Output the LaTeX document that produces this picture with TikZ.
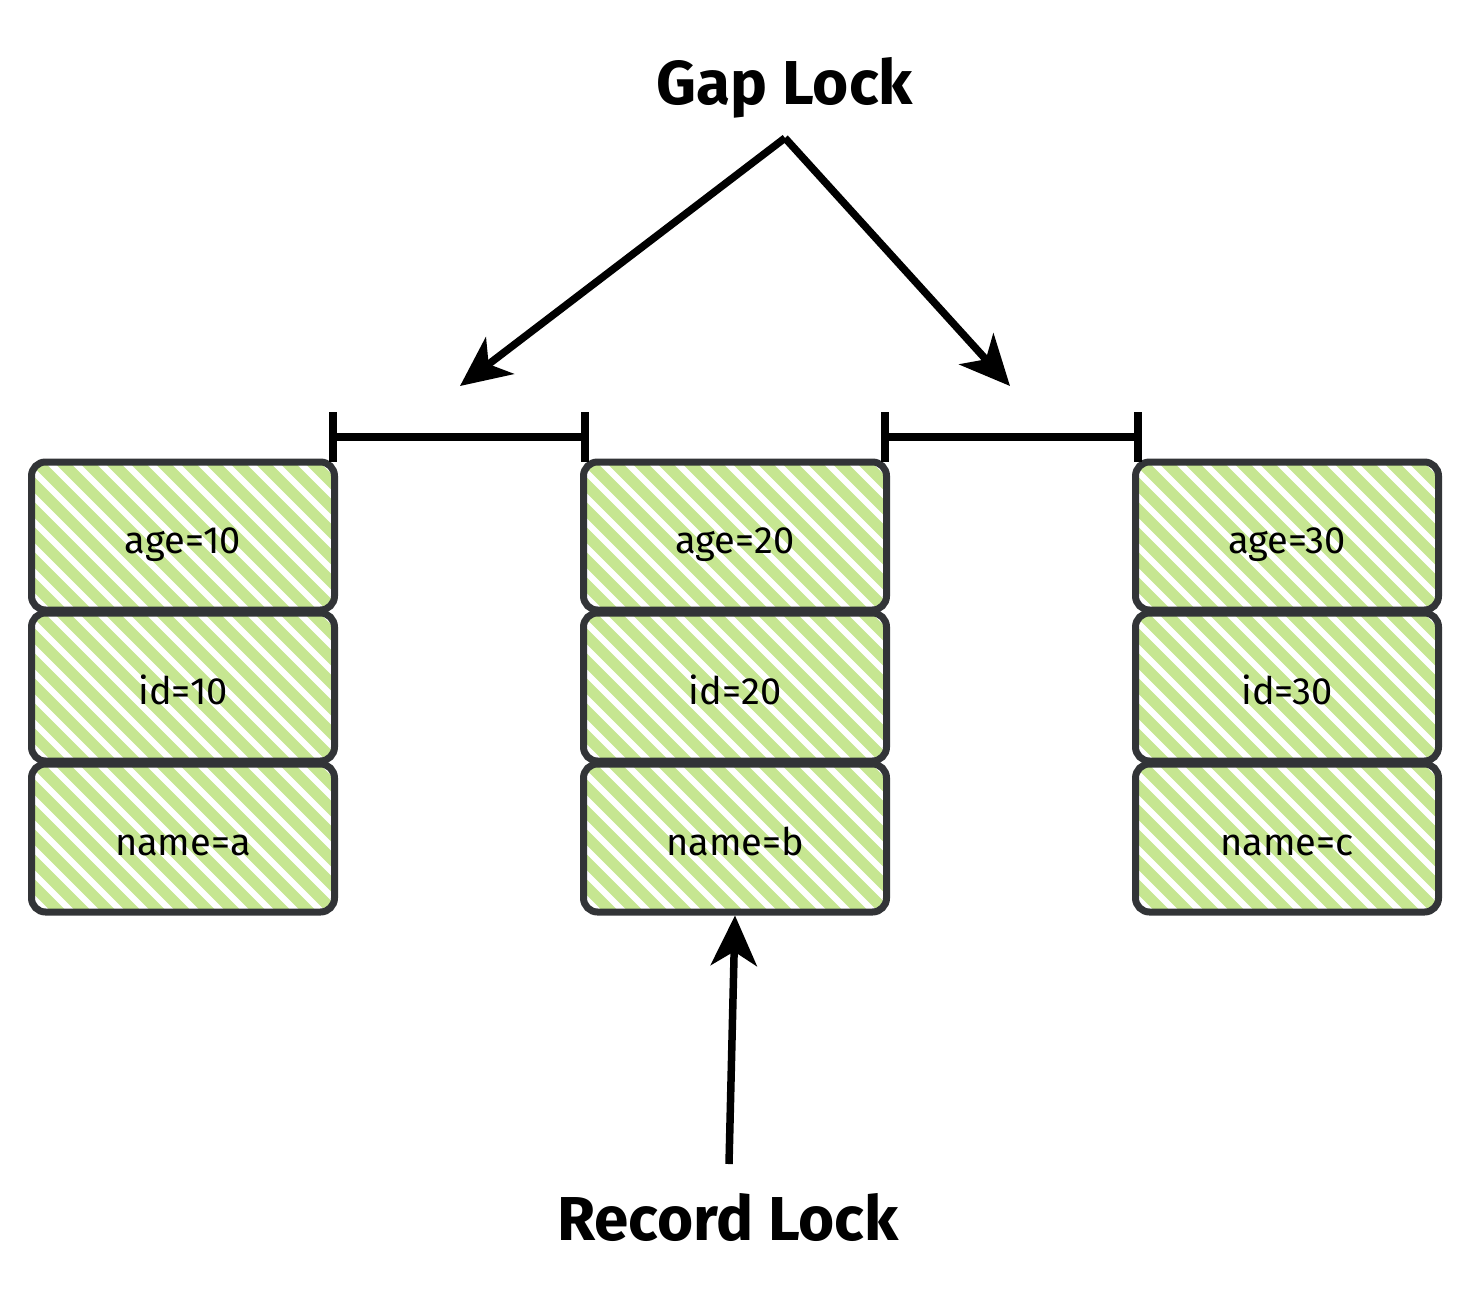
\documentclass[tikz,border=0pt]{standalone}
\usepackage{fontspec}
\setmainfont{Fira Sans}
\usetikzlibrary{arrows.meta,calc}
\definecolor{hatchgreen}{RGB}{198,230,145}
\definecolor{edge}{RGB}{50,52,55}
\tikzset{
  cell/.style={draw=edge, line width=7pt, rounded corners=14pt,
    minimum width=303pt, minimum height=148pt, inner sep=0pt,
    text height=40pt, text depth=5pt,
    font=\fontsize{38}{42}\selectfont,
    path picture={
      \foreach \k in {0,...,20}{
        \draw[hatchgreen, line width=11pt, line cap=round]
          ([xshift=-180pt+\k*25pt, yshift=10pt]path picture bounding box.north west)
          -- ++(200pt,-200pt);
      }
    }},
  title/.style={font=\fontsize{62}{70}\selectfont\bfseries, inner sep=0pt},
  bar/.style={line width=8.5pt, black},
  arr/.style={line width=7.5pt, black, -{Stealth[length=50pt,width=46pt,inset=14pt]}},
}
\begin{document}
\begin{tikzpicture}[x=1pt,y=-1pt]
\useasboundingbox (0,0) rectangle (1464,1294);
% cells
\foreach \c/\x/\v/\n in {1/183/10/a, 2/735/20/b, 3/1287/30/c}{
  \node[cell] (age\c) at (\x,536) {age=\v};
  \node[cell] (id\c) at (\x,687) {id=\v};
  \node[cell] (name\c) at (\x,838) {name=\n};
}
% gap bars
\coordinate (g1a) at (333,437);
\coordinate (g1b) at (585,437);
\coordinate (g2a) at (885,437);
\coordinate (g2b) at (1138,437);
\draw[bar] (g1a) -- (g1b);
\draw[bar] (g2a) -- (g2b);
\foreach \p in {g1a,g1b,g2a,g2b}{
  \draw[bar] ($(\p)+(0,-25)$) -- ($(\p)+(0,25)$);
}
% titles
\node[title] (gap) at (785,88) {Gap Lock};
\node[title] (rec) at (728,1217) {Record Lock};
% arrows
\coordinate (apex) at (785,138);
\coordinate (gl) at (460,386);
\coordinate (gr) at (1010,386);
\coordinate (rstart) at (729,1164);
\draw[arr] (apex) -- (gl);
\draw[arr] (apex) -- (gr);
\draw[arr] (rstart) -- (name2.south);
\end{tikzpicture}
\end{document}
